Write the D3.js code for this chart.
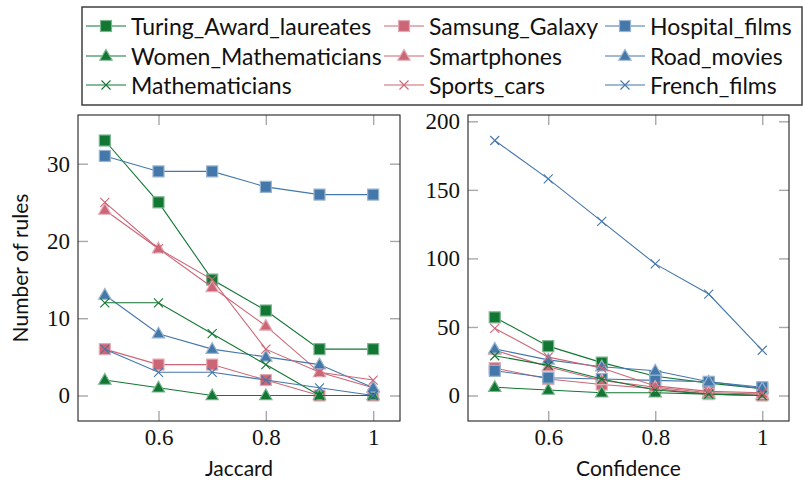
<!DOCTYPE html>
<html>
<head>
<meta charset="utf-8">
<script src="https://cdn.jsdelivr.net/npm/d3@7"></script>
<style>
  html, body { margin: 0; padding: 0; background: #fff; }
  svg { display: block; }
  .sans { font-family: Lato, "Liberation Sans", sans-serif; fill: #111; }
</style>
</head>
<body>
<svg id="chart" width="803" height="482"></svg>
<script>
// Threshold values on the x axis (Jaccard and confidence)
const thresholds = [0.5, 0.6, 0.7, 0.8, 0.9, 1.0];
const xTicks = [0.6, 0.8, 1];
const jaccardYTicks = [0, 10, 20, 30];
const confidenceYTicks = [0, 50, 100, 150, 200];

// Number of rules per category, Jaccard threshold
const turingJaccard      = [33, 25, 15, 11, 6, 6];
const samsungJaccard     = [6, 4, 4, 2, 0, 0];
const hospitalJaccard    = [31, 29, 29, 27, 26, 26];
const womenMathJaccard   = [2, 1, 0, 0, 0, 0];
const smartphonesJaccard = [24, 19, 14, 9, 3, 1];
const roadMoviesJaccard  = [13, 8, 6, 5, 4, 1];
const mathJaccard        = [12, 12, 8, 4, 0, 0];
const sportsCarsJaccard  = [25, 19, 15, 6, 3, 2];
const frenchJaccard      = [6, 3, 3, 2, 1, 0];

// Number of rules per category, confidence threshold
const turingConfidence      = [57, 36, 24, 14, 9, 5];
const samsungConfidence     = [20, 12, 8, 5, 1, 0];
const hospitalConfidence    = [18, 13, 12, 11, 10, 6];
const womenMathConfidence   = [6, 4, 2, 2, 1, 0];
const smartphonesConfidence = [33, 21, 11, 6, 2, 1];
const roadMoviesConfidence  = [34, 26, 21, 18, 10, 5];
const mathConfidence        = [29, 22, 12, 4, 1, 0];
const sportsCarsConfidence  = [49, 28, 20, 7, 3, 2];
const frenchConfidence      = [186, 158, 127, 96, 74, 33];

const GREEN = "#117733", ROSE = "#CC6677", BLUE = "#4477AA";

// Plot order is the legend's row-wise order
const series = [
  { name: "Turing_Award_laureates", color: GREEN, mark: "square",   jac: turingJaccard,      conf: turingConfidence },
  { name: "Samsung_Galaxy",         color: ROSE,  mark: "square",   jac: samsungJaccard,     conf: samsungConfidence },
  { name: "Hospital_films",         color: BLUE,  mark: "square",   jac: hospitalJaccard,    conf: hospitalConfidence },
  { name: "Women_Mathematicians",   color: GREEN, mark: "triangle", jac: womenMathJaccard,   conf: womenMathConfidence },
  { name: "Smartphones",            color: ROSE,  mark: "triangle", jac: smartphonesJaccard, conf: smartphonesConfidence },
  { name: "Road_movies",            color: BLUE,  mark: "triangle", jac: roadMoviesJaccard,  conf: roadMoviesConfidence },
  { name: "Mathematicians",         color: GREEN, mark: "cross",    jac: mathJaccard,        conf: mathConfidence },
  { name: "Sports_cars",            color: ROSE,  mark: "cross",    jac: sportsCarsJaccard,  conf: sportsCarsConfidence },
  { name: "French_films",           color: BLUE,  mark: "cross",    jac: frenchJaccard,      conf: frenchConfidence }
];

const SERIF = "Liberation Serif";
const svg = d3.select("#chart");

function light(c, t) { return d3.interpolateRgb(c, "#ffffff")(t); }

function drawMark(g, type, cx, cy, color) {
  if (type === "square") {
    g.append("rect").attr("x", cx - 5.5).attr("y", cy - 5.5).attr("width", 11).attr("height", 11)
      .attr("fill", color).attr("stroke", light(color, 0.45)).attr("stroke-width", 1.2);
  } else if (type === "triangle") {
    const r = 6.5;
    g.append("path")
      .attr("d", `M${cx},${cy - r} L${cx + r * 0.95},${cy + r * 0.65} L${cx - r * 0.95},${cy + r * 0.65} Z`)
      .attr("fill", color).attr("stroke", light(color, 0.45)).attr("stroke-width", 1.2);
  } else {
    const r = 4.5;
    g.append("path")
      .attr("d", `M${cx - r},${cy - r} L${cx + r},${cy + r} M${cx - r},${cy + r} L${cx + r},${cy - r}`)
      .attr("fill", "none").attr("stroke", color).attr("stroke-width", 1.1);
  }
}

function panel(opts) {
  const { x0, x1, y0, y1, yDomain, yTicks, key, title } = opts;
  const x = d3.scaleLinear().domain([0.45, 1.05]).range([x0, x1]);
  const y = d3.scaleLinear().domain(yDomain).range([y1, y0]);
  const g = svg.append("g");

  g.append("rect").attr("x", x0).attr("y", y0).attr("width", x1 - x0).attr("height", y1 - y0)
    .attr("fill", "#fff");

  const styleTicks = sel => {
    sel.attr("font-family", SERIF).attr("font-size", 23);
    sel.select(".domain").remove();
    sel.selectAll(".tick line").attr("stroke", "#a8a8a8").attr("stroke-width", 1.4);
    sel.selectAll(".tick text")
      .attr("font-family", SERIF).attr("font-size", 23).attr("fill", "#111")
      .style("font-family", SERIF);
  };

  g.append("g").attr("transform", `translate(${x0},0)`)
    .call(d3.axisLeft(y).tickValues(yTicks).tickSize(-10).tickPadding(8).tickFormat(d3.format("d")))
    .call(styleTicks);
  g.append("g").attr("transform", `translate(${x1},0)`)
    .call(d3.axisRight(y).tickValues(yTicks).tickSize(-10).tickFormat(""))
    .call(styleTicks);
  g.append("g").attr("transform", `translate(0,${y1})`)
    .call(d3.axisBottom(x).tickValues(xTicks).tickSize(-10).tickPadding(8).tickFormat(d => d === 1 ? "1" : d3.format(".1f")(d)))
    .call(styleTicks);
  g.append("g").attr("transform", `translate(0,${y0})`)
    .call(d3.axisTop(x).tickValues(xTicks).tickSize(-10).tickFormat(""))
    .call(styleTicks);

  const line = d3.line().x((d, i) => x(thresholds[i])).y(d => y(d));
  series.forEach(s => {
    const vals = s[key];
    g.append("path").datum(vals).attr("d", line)
      .attr("fill", "none").attr("stroke", s.color).attr("stroke-width", 1.1);
    vals.forEach((v, i) => drawMark(g, s.mark, x(thresholds[i]), y(v), s.color));
  });

  g.append("rect").attr("x", x0).attr("y", y0).attr("width", x1 - x0).attr("height", y1 - y0)
    .attr("fill", "none").attr("stroke", "#222").attr("stroke-width", 1.1);

  g.append("text").attr("class", "sans").attr("x", (x0 + x1) / 2).attr("y", 476)
    .attr("text-anchor", "middle").attr("font-size", 21).text(title);
}

panel({ x0: 78, x1: 400, y0: 115, y1: 421, yDomain: [-3.3, 36.3], yTicks: jaccardYTicks, key: "jac", title: "Jaccard" });
panel({ x0: 468, x1: 789, y0: 115, y1: 421, yDomain: [-18.6, 204.6], yTicks: confidenceYTicks, key: "conf", title: "Confidence" });

svg.append("text").attr("class", "sans")
  .attr("transform", "translate(28,268) rotate(-90)")
  .attr("text-anchor", "middle").attr("font-size", 21).text("Number of rules");

// Legend: three columns, filled row by row
const legend = svg.append("g");
legend.append("rect").attr("x", 82).attr("y", 7).attr("width", 720).attr("height", 98)
  .attr("fill", "#fff").attr("stroke", "#333").attr("stroke-width", 1.4);
const colX = [86, 384, 605];
const rowY = [26, 56, 85];
series.forEach((s, i) => {
  const cx = colX[i % 3], cy = rowY[Math.floor(i / 3)];
  legend.append("line").attr("x1", cx).attr("x2", cx + 40).attr("y1", cy).attr("y2", cy)
    .attr("stroke", s.color).attr("stroke-width", 1.1);
  drawMark(legend, s.mark, cx + 20, cy, s.color);
  legend.append("text").attr("class", "sans").attr("x", cx + 45).attr("y", cy)
    .attr("dominant-baseline", "central").attr("font-size", 23).text(s.name);
});
</script>
</body>
</html>
